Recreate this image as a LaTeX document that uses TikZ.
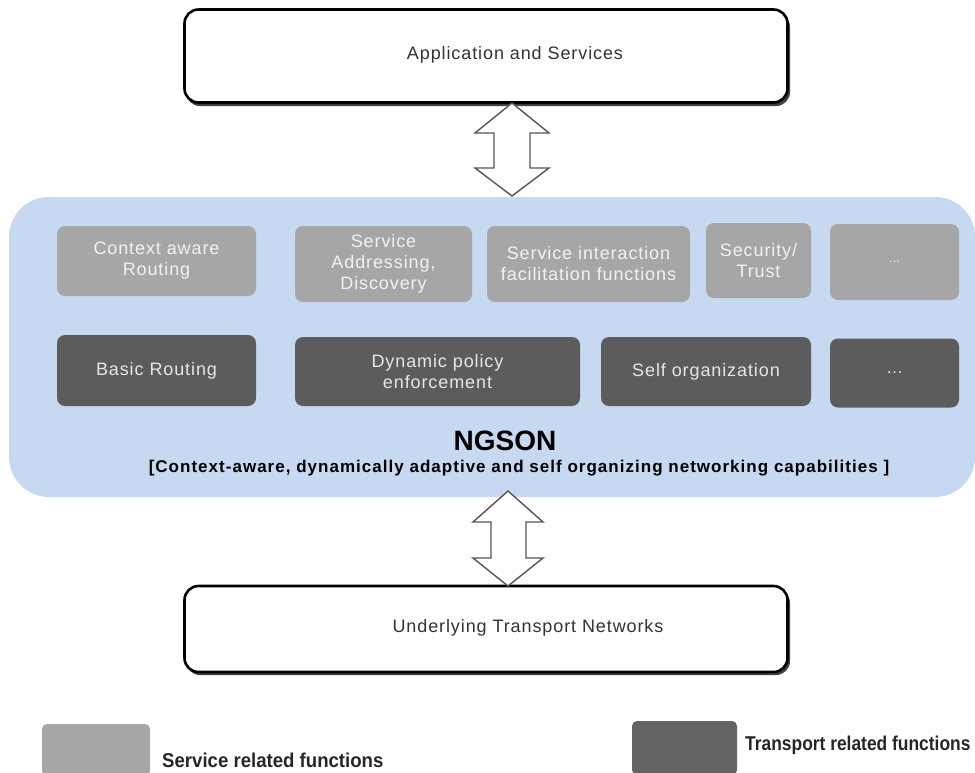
\documentclass[tikz,border=0pt]{standalone}
\usepackage{fontspec}
\setmainfont{Liberation Sans}
\newfontfamily\spaced[LetterSpace=5]{Liberation Sans}
\newfontfamily\wide[LetterSpace=6]{Liberation Sans}
\usetikzlibrary{calc}
\definecolor{panelblue}{HTML}{C6D9F1}
\definecolor{svcgray}{HTML}{A6A6A6}
\definecolor{trgray}{HTML}{5C5C5C}
\definecolor{svctext}{HTML}{F2F2F2}
\definecolor{trtext}{HTML}{E6E6E6}
\definecolor{arrowline}{HTML}{555555}
\tikzset{
  layerbox/.style={draw=black, line width=2.6pt, fill=white, rounded corners=14pt,
    inner sep=0pt},
  layertext/.style={font=\spaced\fontsize{18}{20}\selectfont, text=black!80, inner sep=0pt},
  svcbox/.style={fill=svcgray, rounded corners=8pt, inner sep=0pt, align=center,
    font=\spaced\fontsize{18}{21}\selectfont, text=svctext},
  trbox/.style={fill=trgray, rounded corners=8pt, inner sep=0pt, align=center,
    font=\spaced\fontsize{18}{21}\selectfont, text=trtext},
  darrow/.style={draw=arrowline, line width=1.4pt, fill=white, line join=miter},
  legtext/.style={anchor=west, inner sep=0pt, font=\bfseries\fontsize{20}{22}\selectfont, text=black!85}
}
\begin{document}
\begin{tikzpicture}[x=1pt,y=-1pt]
\useasboundingbox (0,0) rectangle (975,772);

% NGSON panel
\node[fill=panelblue, rounded corners=40pt, minimum width=966pt, minimum height=300pt,
      inner sep=0pt] (ngson) at (492,347) {};

% outer layers with a slight drop shadow
\fill[black!75, rounded corners=14pt] (186,13) rectangle (790,106);
\node[layerbox, minimum width=603pt, minimum height=93pt] (app) at (486,56) {};
\node[layertext] (appt) at (515,55) {Application and Services};
\fill[black!75, rounded corners=14pt] (186,589) rectangle (790,675);
\node[layerbox, minimum width=603pt, minimum height=86pt] (net) at (486,629) {};
\node[layertext] (nett) at (528,628) {Underlying Transport Networks};

% service related functions
\node[svcbox, minimum width=199pt, minimum height=70pt] (car) at (156.5,261) {Context aware\\Routing};
\node[svcbox, minimum width=177pt, minimum height=76pt] (sad) at (383.5,264) {Service\\Addressing,\\Discovery};
\node[svcbox, minimum width=203pt, minimum height=76pt] (sif) at (588.5,264) {Service interaction\\facilitation functions};
\node[svcbox, minimum width=105pt, minimum height=75pt] (sec) at (758.5,260.5) {Security/\\Trust};
\node[svcbox, minimum width=129pt, minimum height=76pt, font=\fontsize{12}{14}\selectfont] (smore) at (894.5,262) {\dots};

% transport related functions
\node[trbox, minimum width=199pt, minimum height=71pt] (brt) at (156.5,370.5) {Basic Routing};
\node[trbox, minimum width=285pt, minimum height=69pt] (dpe) at (437.5,371.5) {Dynamic policy\\enforcement};
\node[trbox, minimum width=210pt, minimum height=69pt] (sorg) at (706,371.5) {Self organization};
\node[trbox, minimum width=129pt, minimum height=69pt, font=\wide\fontsize{17}{20}\selectfont] (tmore) at (894.5,373) {\dots};

% panel title
\node[font=\bfseries\fontsize{28}{30}\selectfont] (title) at (505,441) {NGSON};
\node[font=\wide\bfseries\fontsize{17}{20}\selectfont] (subtitle) at (519,468)
  {[Context-aware, dynamically adaptive and self organizing networking capabilities ]};

% two-way interfaces between the layers
\coordinate (a1) at (512,103);
\coordinate (b1) at (512,196);
\draw[darrow] (a1) -- ++(37,30) -- ++(-19,0) -- ++(0,35) -- ++(19,0)
  -- (b1) -- ++(-37,-28) -- ++(19,0) -- ++(0,-35) -- ++(-19,0) -- cycle;
\coordinate (a2) at (508,491);
\coordinate (b2) at (508,586);
\draw[darrow] (a2) -- ++(35,31) -- ++(-17,0) -- ++(0,36) -- ++(17,0)
  -- (b2) -- ++(-35,-28) -- ++(18,0) -- ++(0,-36) -- ++(-18,0) -- cycle;

% legend
\node[fill=svcgray, rounded corners=5pt, minimum width=108pt, minimum height=52pt, inner sep=0pt] (lsvc) at (96,750) {};
\node[legtext] (lsvct) at (162,760) {\scalebox{0.93}[1]{Service related functions}};
\node[fill=trgray!95, rounded corners=5pt, minimum width=105pt, minimum height=54pt, inner sep=0pt] (ltr) at (684.5,748) {};
\node[legtext] (ltrt) at (745,745) {\scalebox{0.87}[1]{Transport related functions}};
\end{tikzpicture}
\end{document}
